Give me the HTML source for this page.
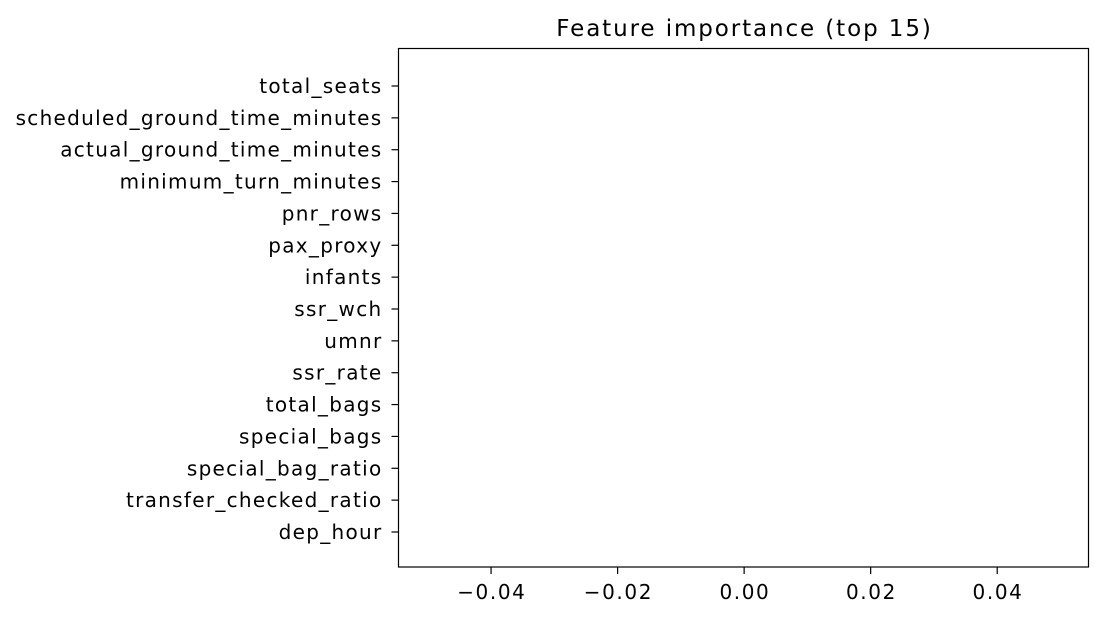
<!DOCTYPE html>
<html><head><meta charset="utf-8"><style>
body{margin:0;background:#fff;}
svg{display:block;font-family:"DejaVu Sans","Liberation Sans",sans-serif;}
</style></head><body>
<svg id="chart" width="1104" height="619" viewBox="0 0 1104 619" xmlns="http://www.w3.org/2000/svg">
<rect width="1104" height="619" fill="#fff"/>
<text x="744.5" y="36" text-anchor="middle" font-size="23" letter-spacing="1.9" fill="#000">Feature importance (top 15)</text>
<g id="bars"></g>
<g id="xaxis"></g>
<g id="yaxis"></g>
<rect x="398.5" y="48.5" width="690" height="518.5" fill="none" stroke="#000" stroke-width="1.2"/>
</svg>
<script>
const features = ["total_seats","scheduled_ground_time_minutes","actual_ground_time_minutes","minimum_turn_minutes","pnr_rows","pax_proxy","infants","ssr_wch","umnr","ssr_rate","total_bags","special_bags","special_bag_ratio","transfer_checked_ratio","dep_hour"];
const importances = [0,0,0,0,0,0,0,0,0,0,0,0,0,0,0];
const xTicks = [-0.04,-0.02,0.00,0.02,0.04];
const xTickLabels = ["\u22120.04","\u22120.02","0.00","0.02","0.04"];

const NS="http://www.w3.org/2000/svg";
const L=398.5,R=1088.5,T=48.5,B=567;
const xMin=-0.05463,xMax=0.05443;
const x=v=>L+(v-xMin)/(xMax-xMin)*(R-L);
const y0=86,yStep=(532-86)/14;
const y=i=>y0+i*yStep;
function mk(tag,attrs){const e=document.createElementNS(NS,tag);for(const k in attrs)e.setAttribute(k,attrs[k]);return e;}
const bars=document.getElementById('bars'),xa=document.getElementById('xaxis'),ya=document.getElementById('yaxis');
features.forEach((f,i)=>{
  const v=importances[i];
  const r=mk('rect',{x:Math.min(x(0),x(v)),y:y(i)-yStep*0.4,width:Math.abs(x(v)-x(0)),height:yStep*0.8,fill:'#1f77b4'});
  
  
  bars.appendChild(r);
  const t=mk('line',{x1:L-7,x2:L,y1:y(i),y2:y(i),stroke:'#000','stroke-width':1.2});
  
  
  ya.appendChild(t);
  const lb=mk('text',{x:L-16,y:y(i)+7,'text-anchor':'end','font-size':'20','letter-spacing':'1.3',fill:'#000'});
  
  
  lb.textContent=f;ya.appendChild(lb);
});
xTicks.forEach((v,i)=>{
  const t=mk('line',{x1:x(v),x2:x(v),y1:B,y2:B+7,stroke:'#000','stroke-width':1.2});
  
  
  xa.appendChild(t);
  const lb=mk('text',{x:x(v)+0.8,y:B+32,'text-anchor':'middle','font-size':'20','letter-spacing':'1.6',fill:'#000'});
  
  
  lb.textContent=xTickLabels[i];xa.appendChild(lb);
});
</script>
</body></html>
